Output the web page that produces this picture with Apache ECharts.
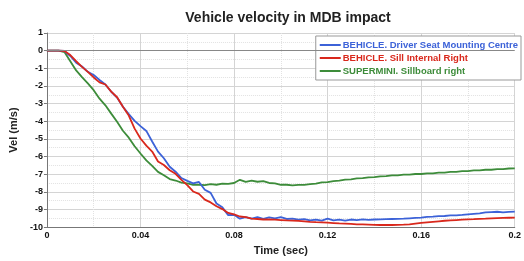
<!DOCTYPE html>
<html>
<head>
<meta charset="utf-8">
<script src="https://cdn.jsdelivr.net/npm/echarts@6/dist/echarts.min.js"></script>
<style>
html, body { margin: 0; padding: 0; background: #fff; }
#main { width: 524px; height: 261px; }
</style>
</head>
<body>
<div id="main"></div>
<script>
var time = [0, 0.0025, 0.005, 0.0075, 0.01, 0.0125, 0.015, 0.0175, 0.02, 0.0225,
	0.025, 0.0275, 0.03, 0.0325, 0.035, 0.0375, 0.04, 0.0425, 0.045, 0.0475,
	0.05, 0.0525, 0.055, 0.0575, 0.06, 0.0625, 0.065, 0.0675, 0.07, 0.0725,
	0.075, 0.0775, 0.08, 0.0825, 0.085, 0.0875, 0.09, 0.0925, 0.095, 0.0975,
	0.1, 0.1025, 0.105, 0.1075, 0.11, 0.1125, 0.115, 0.1175, 0.12, 0.1225,
	0.125, 0.1275, 0.13, 0.1325, 0.135, 0.1375, 0.14, 0.1425, 0.145, 0.1475,
	0.15, 0.1525, 0.155, 0.1575, 0.16, 0.1625, 0.165, 0.1675, 0.17, 0.1725,
	0.175, 0.1775, 0.18, 0.1825, 0.185, 0.1875, 0.19, 0.1925, 0.195, 0.1975, 0.2];

var driverSeat = [0, 0, 0, -0.02, -0.3, -0.68, -0.9, -1.2, -1.38, -1.66,
	-1.92, -2.33, -2.66, -3.18, -3.6, -3.98, -4.28, -4.55, -5.15, -5.72,
	-6.1, -6.58, -6.86, -7.22, -7.38, -7.52, -7.44, -7.88, -8.06, -8.66,
	-8.88, -9.32, -9.3, -9.52, -9.44, -9.52, -9.44, -9.53, -9.45, -9.5,
	-9.44, -9.54, -9.52, -9.58, -9.55, -9.62, -9.58, -9.63, -9.52, -9.62,
	-9.58, -9.63, -9.57, -9.6, -9.56, -9.59, -9.57, -9.56, -9.55, -9.54,
	-9.53, -9.52, -9.5, -9.48, -9.46, -9.42, -9.41, -9.38, -9.37, -9.34,
	-9.33, -9.31, -9.28, -9.25, -9.22, -9.17, -9.15, -9.13, -9.16, -9.14, -9.12];

var sillRight = [0, 0, 0, -0.02, -0.25, -0.6, -0.92, -1.2, -1.52, -1.8,
	-1.92, -2.32, -2.64, -3.18, -3.68, -4.42, -4.98, -5.38, -5.72, -6.28,
	-6.48, -6.78, -6.98, -7.32, -7.62, -7.98, -8.12, -8.44, -8.6, -8.82,
	-8.98, -9.2, -9.28, -9.4, -9.44, -9.52, -9.54, -9.57, -9.56, -9.58,
	-9.6, -9.62, -9.63, -9.65, -9.67, -9.7, -9.72, -9.73, -9.75, -9.77,
	-9.79, -9.8, -9.82, -9.84, -9.85, -9.86, -9.87, -9.88, -9.88, -9.88,
	-9.87, -9.86, -9.84, -9.8, -9.76, -9.73, -9.7, -9.67, -9.64, -9.62,
	-9.6, -9.58, -9.56, -9.55, -9.53, -9.52, -9.5, -9.49, -9.48, -9.47, -9.46];

var sillboard = [0, 0, 0, -0.08, -0.6, -1.12, -1.5, -1.86, -2.24, -2.72,
	-3.1, -3.57, -4.03, -4.54, -4.93, -5.42, -5.83, -6.22, -6.53, -6.87,
	-7.06, -7.28, -7.36, -7.48, -7.52, -7.6, -7.6, -7.62, -7.57, -7.6,
	-7.54, -7.55, -7.5, -7.32, -7.44, -7.37, -7.43, -7.4, -7.5, -7.52,
	-7.6, -7.6, -7.64, -7.61, -7.61, -7.56, -7.54, -7.47, -7.45, -7.39,
	-7.37, -7.31, -7.29, -7.24, -7.23, -7.18, -7.17, -7.12, -7.11, -7.07,
	-7.07, -7.03, -7.03, -6.99, -6.99, -6.95, -6.95, -6.91, -6.91, -6.87,
	-6.87, -6.83, -6.83, -6.79, -6.79, -6.75, -6.75, -6.71, -6.71, -6.68, -6.67];

var seriesNames = ['BEHICLE. Driver Seat Mounting Centre', 'BEHICLE. Sill Internal Right', 'SUPERMINI. Sillboard right'];
var seriesColors = ['#3c62d8', '#d9281c', '#3d8c3a'];

function pairs(vals) {
	var out = [];
	for (var i = 0; i < time.length; i++) out.push([time[i], vals[i]]);
	return out;
}

var chartDom = document.getElementById('main');
var myChart = echarts.init(chartDom);
var option;

var font = 'Liberation Sans, Arial, sans-serif';

option = {
	animation: false,
	title: {
		text: 'Vehicle velocity in MDB impact',
		left: 283,
		textAlign: 'center',
		top: 6,
		textStyle: {fontSize: 14, fontWeight: 'bold', color: '#222', fontFamily: font}
	},
	legend: {
		orient: 'vertical',
		right: 3,
		top: 36,
		itemWidth: 21,
		itemHeight: 2,
		itemGap: 3,
		padding: [4, 3, 4, 4],
		backgroundColor: '#fff',
		borderColor: '#999',
		borderWidth: 1,
		icon: 'rect',
		textStyle: {fontSize: 9.5, fontWeight: 'bold', fontFamily: font, padding: [0, 0, 0, -3]},
		data: seriesNames.map(function (n, i) {
			return {name: n, textStyle: {color: seriesColors[i]}};
		})
	},
	grid: {left: 45, right: 3, top: 33, bottom: 23},
	xAxis: {
		type: 'value',
		min: 0,
		max: 0.2,
		interval: 0.04,
		name: 'Time (sec)',
		nameLocation: 'middle',
		nameGap: 11,
		nameTextStyle: {fontSize: 11, fontWeight: 'bold', color: '#222', fontFamily: font},
		axisLine: {onZero: false, lineStyle: {color: '#777'}},
		axisTick: {show: false},
		axisLabel: {fontSize: 9, fontWeight: 'bold', color: '#111', fontFamily: font, margin: 4},
		splitLine: {show: true, lineStyle: {color: '#d4d4d4'}},
		minorTick: {show: false, splitNumber: 2},
		minorSplitLine: {show: true, lineStyle: {color: '#e2e2e2', type: 'dotted'}}
	},
	yAxis: {
		type: 'value',
		min: -10,
		max: 1,
		interval: 1,
		name: 'Vel (m/s)',
		nameLocation: 'middle',
		nameGap: 22,
		nameTextStyle: {fontSize: 11, fontWeight: 'bold', color: '#222', fontFamily: font},
		axisLine: {show: true, lineStyle: {color: '#777'}},
		axisTick: {show: true, length: 3, lineStyle: {color: '#777'}},
		axisLabel: {fontSize: 9, fontWeight: 'bold', color: '#111', fontFamily: font, margin: 4},
		splitLine: {show: true, lineStyle: {color: '#d4d4d4'}},
		minorTick: {show: false, splitNumber: 2},
		minorSplitLine: {show: true, lineStyle: {color: '#e2e2e2', type: 'dotted'}}
	},
	series: [
		{
			name: seriesNames[0],
			type: 'line',
			data: pairs(driverSeat),
			showSymbol: false,
			lineStyle: {width: 1.8, color: seriesColors[0]},
			itemStyle: {color: seriesColors[0]},
			z: 3,
			markLine: {
				silent: true,
				symbol: 'none',
				label: {show: false},
				lineStyle: {color: '#888', type: 'solid', width: 1},
				data: [{yAxis: 0}]
			}
		},
		{
			name: seriesNames[1],
			type: 'line',
			data: pairs(sillRight),
			showSymbol: false,
			lineStyle: {width: 1.8, color: seriesColors[1]},
			itemStyle: {color: seriesColors[1]},
			z: 4
		},
		{
			name: seriesNames[2],
			type: 'line',
			data: pairs(sillboard),
			showSymbol: false,
			lineStyle: {width: 1.8, color: seriesColors[2]},
			itemStyle: {color: seriesColors[2]},
			z: 2
		}
	]
};

option && myChart.setOption(option);
</script>
</body>
</html>
